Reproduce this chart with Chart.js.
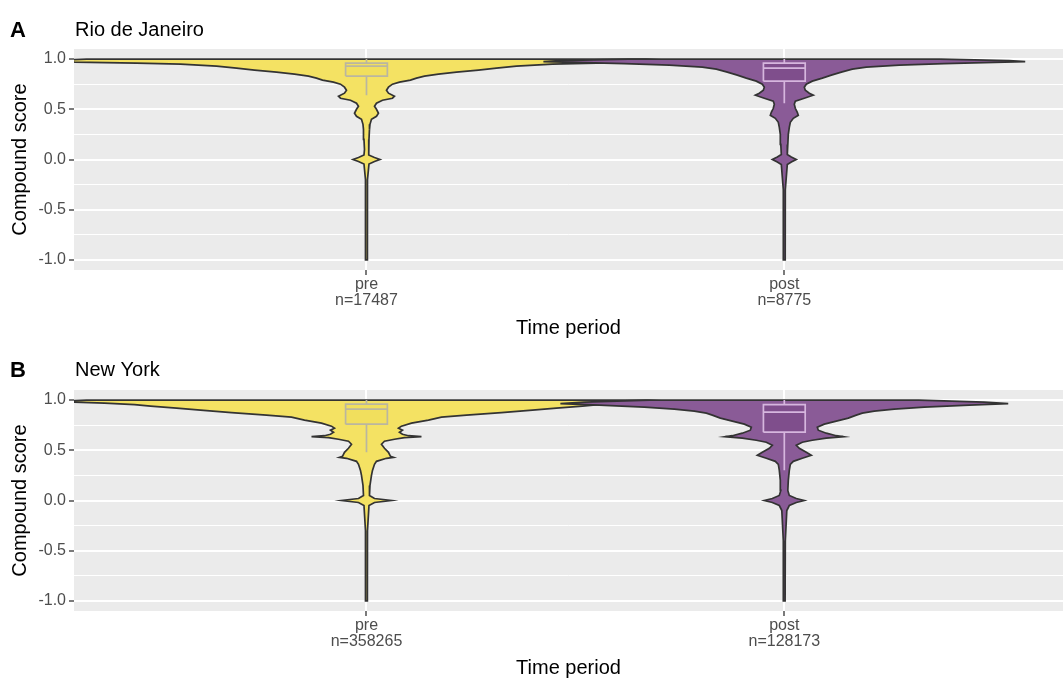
<!DOCTYPE html>
<html>
<head>
<meta charset="utf-8">
<script src="https://cdn.jsdelivr.net/npm/chart.js@4.4.0/dist/chart.umd.min.js"></script>
<style>
  html, body { margin: 0; padding: 0; background: #fff; }
  canvas { display: block; }
</style>
</head>
<body>
<canvas id="rio" width="1063" height="340"></canvas>
<canvas id="ny" width="1063" height="340"></canvas>
<script>
const categories = ["pre", "post"];
const rioCounts = [17487, 8775];
const nyCounts = [358265, 128173];
const yMajor = [-1, -0.5, 0, 0.5, 1];
const yMinor = [-0.75, -0.25, 0.25, 0.75];

// violin profiles: score level + relative density
const rioPreY = [1.00, 0.985, 0.97, 0.96, 0.95, 0.93, 0.91, 0.89, 0.87, 0.85, 0.83, 0.81, 0.79, 0.77, 0.75, 0.72, 0.69, 0.66, 0.63, 0.61, 0.59, 0.56, 0.53, 0.50, 0.46, 0.43, 0.40, 0.35, 0.30, 0.20, 0.10, 0.045, 0.02, 0.00, -0.02, -0.045, -0.20, -0.50, -0.80, -1.00];
const rioPreDens = [280, 310, 292, 230, 186, 150, 130, 112, 90, 72, 58, 50, 44, 33, 26, 22, 20, 22, 28, 26, 16, 10, 8, 10, 12, 10, 5, 3.5, 3, 2.5, 2, 2.5, 8, 13.5, 8, 2.5, 1, 1, 1, 0.8];

const rioPostY = [1.00, 0.985, 0.975, 0.965, 0.955, 0.94, 0.92, 0.90, 0.87, 0.84, 0.81, 0.78, 0.75, 0.72, 0.69, 0.66, 0.64, 0.61, 0.58, 0.55, 0.51, 0.47, 0.44, 0.41, 0.37, 0.32, 0.25, 0.15, 0.05, 0.025, 0.00, -0.025, -0.05, -0.30, -0.60, -1.00];
const rioPostDens = [156, 225, 241, 200, 160, 115, 82, 68, 57, 47, 38, 28, 22, 20, 21, 25, 29, 20, 11, 10, 11, 13, 14, 9, 6, 5, 4, 3.5, 3, 7, 12, 7, 3, 1, 1, 0.8];

const nyPreY = [1.00, 0.985, 0.97, 0.955, 0.94, 0.92, 0.90, 0.875, 0.85, 0.83, 0.80, 0.77, 0.74, 0.72, 0.70, 0.68, 0.66, 0.645, 0.635, 0.625, 0.61, 0.59, 0.56, 0.52, 0.48, 0.44, 0.43, 0.42, 0.39, 0.36, 0.30, 0.25, 0.15, 0.05, 0.02, 0.00, -0.02, -0.05, -0.30, -0.70, -1.00];
const nyPreDens = [280, 310, 262, 232, 216, 190, 166, 135, 100, 75, 62, 45, 35, 32, 36, 33, 36, 42, 55, 38, 28, 18, 15, 18, 22, 24, 27, 20, 10, 8, 6, 5, 3.5, 3, 8, 25, 8, 2.5, 1, 1, 0.8];

const nyPostY = [1.00, 0.98, 0.965, 0.95, 0.93, 0.91, 0.89, 0.87, 0.85, 0.82, 0.79, 0.76, 0.73, 0.70, 0.67, 0.645, 0.635, 0.62, 0.60, 0.58, 0.55, 0.52, 0.48, 0.45, 0.42, 0.39, 0.36, 0.30, 0.20, 0.10, 0.05, 0.02, 0.00, -0.02, -0.05, -0.10, -0.40, -1.00];
const nyPostDens = [135, 200, 224, 185, 140, 110, 90, 78, 72, 64, 52, 40, 33, 34, 42, 52, 59, 42, 28, 18, 12, 15, 22, 27, 18, 9, 6, 5, 4, 3.5, 5, 12, 20, 12, 5, 2.5, 1, 0.8];

// box stats: [lower whisker, q1, median, q3, upper whisker]
const rioPreBox = [0.64, 0.83, 0.93, 0.96, 1.0];
const rioPostBox = [0.56, 0.78, 0.91, 0.96, 1.0];
const nyPreBox = [0.48, 0.76, 0.91, 0.96, 1.0];
const nyPostBox = [0.30, 0.68, 0.88, 0.955, 1.0];

const DENS_TO_WIDTH = 1 / 418;   // density -> half width in category units
const BOX_HALF = 0.05;
const FONT = "'Liberation Sans', Arial, sans-serif";

function violin(center, ys, dens) {
  const right = ys.map((y, i) => ({ x: center + dens[i] * DENS_TO_WIDTH, y }));
  const left = ys.map((y, i) => ({ x: center - dens[i] * DENS_TO_WIDTH, y })).reverse();
  const pts = right.concat(left);
  pts.push(pts[0]);
  return pts;
}

function boxRect(c, b) {
  return [
    { x: c - BOX_HALF, y: b[1] }, { x: c + BOX_HALF, y: b[1] },
    { x: c + BOX_HALF, y: b[3] }, { x: c - BOX_HALF, y: b[3] },
    { x: c - BOX_HALF, y: b[1] }
  ];
}
function boxLines(c, b) {
  return [
    { x: c, y: b[0] }, { x: c, y: b[1] }, { x: c, y: null },
    { x: c, y: b[3] }, { x: c, y: b[4] }, { x: c, y: null },
    { x: c - BOX_HALF, y: b[2] }, { x: c + BOX_HALF, y: b[2] }
  ];
}

const isMajor = v => Math.abs(v * 2 - Math.round(v * 2)) < 1e-6;

const panelBg = {
  id: "panelBg",
  beforeDraw(chart) {
    const { ctx, chartArea: a } = chart;
    ctx.save();
    ctx.fillStyle = "#EBEBEB";
    ctx.fillRect(a.left, a.top, a.right - a.left, a.bottom - a.top);
    ctx.restore();
  }
};

const panelTag = {
  id: "panelTag",
  afterDraw(chart, args, opts) {
    const ctx = chart.ctx;
    ctx.save();
    ctx.fillStyle = "#000";
    ctx.textBaseline = "alphabetic";
    ctx.font = "bold 22px " + FONT;
    ctx.fillText(opts.letter, 10, opts.base + 1);
    ctx.font = "20px " + FONT;
    ctx.fillText(opts.title, 75, opts.base);
    ctx.restore();
  }
};

function makePanel(id, title, letter, counts, pre, post, preBox, postBox, topPad, axisH) {
  const datasets = [
    { data: violin(1, pre[0], pre[1]), backgroundColor: "#F4E263", borderColor: "#333333",
      borderWidth: 1.7, fill: "shape", order: 10 },
    { data: violin(2, post[0], post[1]), backgroundColor: "#8A5B97", borderColor: "#333333",
      borderWidth: 1.7, fill: "shape", order: 9 },
    { data: boxRect(1, preBox), backgroundColor: "rgba(235,215,80,0.3)", borderColor: "#BAB6A0",
      borderWidth: 1.7, fill: "shape", order: 4 },
    { data: boxLines(1, preBox), borderColor: "#BAB6A0", borderWidth: 1.7, fill: false, order: 3 },
    { data: boxRect(2, postBox), backgroundColor: "rgba(105,55,120,0.35)", borderColor: "#D6B6DE",
      borderWidth: 1.7, fill: "shape", order: 2 },
    { data: boxLines(2, postBox), borderColor: "#D6B6DE", borderWidth: 1.7, fill: false, order: 1 }
  ].map(d => Object.assign({ showLine: true, pointRadius: 0, tension: 0, spanGaps: false }, d));

  return new Chart(document.getElementById(id), {
    type: "scatter",
    data: { datasets },
    plugins: [panelBg, panelTag],
    options: {
      responsive: false,
      animation: false,
      devicePixelRatio: 1,
      layout: { padding: { top: topPad, right: 0, bottom: 0, left: 0 } },
      plugins: {
        legend: { display: false },
        tooltip: { enabled: false },
        panelTag: { letter, title, base: 36 }
      },
      scales: {
        x: {
          type: "linear",
          min: 0.3,
          max: 2.667,
          afterBuildTicks: s => { s.ticks = [1, 2].map(v => ({ value: v })); },
          afterFit: s => { s.height = axisH; },
          border: { display: false },
          grid: { color: "#FFFFFF", lineWidth: 2, tickColor: "#333", tickLength: 5, tickWidth: 1.3 },
          ticks: {
            color: "#4D4D4D",
            padding: 2,
            maxRotation: 0,
            font: { family: FONT, size: 16, lineHeight: 1.0 },
            callback: v => [categories[v - 1], "n=" + counts[v - 1]]
          },
          title: { display: true, text: "Time period", color: "#000",
                   font: { family: FONT, size: 20, lineHeight: 1.2 }, padding: { top: 0, bottom: 0 } }
        },
        y: {
          type: "linear",
          min: -1.1,
          max: 1.1,
          afterBuildTicks: s => {
            s.ticks = yMajor.concat(yMinor).sort((a, b) => a - b).map(v => ({ value: v }));
          },
          afterFit: s => { s.width = 74; },
          border: { display: false },
          grid: {
            color: "#FFFFFF",
            lineWidth: c => (c.tick && isMajor(c.tick.value) ? 2 : 1),
            tickColor: c => (c.tick && isMajor(c.tick.value) ? "#333" : "rgba(0,0,0,0)"),
            tickLength: 5,
            tickWidth: 1.3
          },
          ticks: {
            color: "#4D4D4D",
            padding: 3,
            font: { family: FONT, size: 16 },
            callback: v => (isMajor(v) ? v.toFixed(1) : "")
          },
          title: { display: true, text: "Compound score", color: "#000",
                   font: { family: FONT, size: 20, lineHeight: 1.2 }, padding: { top: 8, bottom: 0 } }
        }
      }
    }
  });
}

makePanel("rio", "Rio de Janeiro", "A", rioCounts,
  [rioPreY, rioPreDens], [rioPostY, rioPostDens], rioPreBox, rioPostBox, 49, 70);
makePanel("ny", "New York", "B", nyCounts,
  [nyPreY, nyPreDens], [nyPostY, nyPostDens], nyPreBox, nyPostBox, 50, 69);
</script>
</body>
</html>
